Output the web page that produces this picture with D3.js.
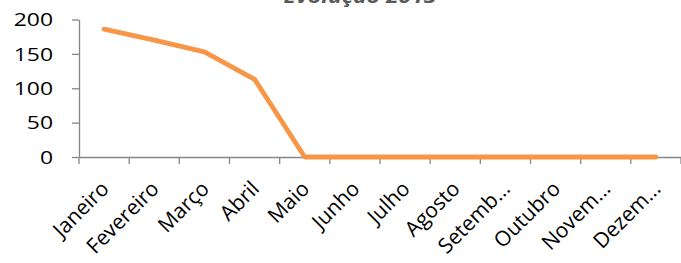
<!DOCTYPE html>
<html>
<head>
<meta charset="utf-8">
<script src="https://cdn.jsdelivr.net/npm/d3@7"></script>
<style>
  body { margin: 0; background: #fff; }
  svg { display: block; }
  .axis path, .axis line { stroke: #868686; stroke-width: 1.3; }
  text { font-family: "Open Sans", sans-serif; fill: #000; }
</style>
</head>
<body>
<div id="chart"></div>
<script>
// Chart data
var months = ["Janeiro", "Fevereiro", "Março", "Abril", "Maio", "Junho",
              "Julho", "Agosto", "Setemb...", "Outubro", "Novem...", "Dezem..."];
var values = [186, 170, 153, 113, 0, 0, 0, 0, 0, 0, 0, 0];
var yTicks = [0, 50, 100, 150, 200];
var title = "Evolução 2015";

var svgWidth = 681;
var svgHeight = 263;

// numbers and title look a bit wider than the font
var stretch = 1.24;

var margin = { top: 19.5, right: 0, bottom: 106, left: 79 };
var width = svgWidth - margin.left - margin.right;
var height = svgHeight - margin.top - margin.bottom;

var svg = d3.select("#chart")
  .append("svg")
  .attr("width", svgWidth)
  .attr("height", svgHeight);

var chartGroup = svg.append("g")
  .attr("transform", `translate(${margin.left}, ${margin.top})`);

var xScale = d3.scaleBand()
  .domain(months)
  .range([0, width]);

var yScale = d3.scaleLinear()
  .domain([0, 200])
  .range([height, 0]);

// Y axis
var yAxis = chartGroup.append("g")
  .attr("class", "axis")
  .call(d3.axisLeft(yScale).tickValues(yTicks).tickSize(7).tickSizeOuter(0).tickFormat(""));

chartGroup.append("g")
  .selectAll("text")
  .data(yTicks)
  .enter()
  .append("text")
  .attr("transform", d => `translate(-26, ${yScale(d)}) scale(${stretch}, 1)`)
  .attr("text-anchor", "end")
  .attr("dy", "0.36em")
  .style("font-size", "18.5px")
  .text(d => d);

// X axis with ticks between categories
var xAxis = chartGroup.append("g")
  .attr("class", "axis")
  .attr("transform", `translate(0, ${height})`)
  .call(d3.axisBottom(xScale).tickSize(0).tickSizeOuter(0).tickFormat(""));

xAxis.selectAll(".boundary")
  .data(d3.range(months.length + 1))
  .enter()
  .append("line")
  .attr("x1", i => i * xScale.bandwidth())
  .attr("x2", i => i * xScale.bandwidth())
  .attr("y1", 0)
  .attr("y2", 7);

// rotated month labels
chartGroup.append("g")
  .selectAll("text")
  .data(months)
  .enter()
  .append("text")
  .attr("transform", d => `translate(${xScale(d) + xScale.bandwidth() / 2 + 6}, ${height + 33}) rotate(-45)`)
  .attr("text-anchor", "end")
  .style("font-size", "21px")
  .text(d => d);

// line
var line = d3.line()
  .x((d, i) => xScale(months[i]) + xScale.bandwidth() / 2)
  .y(d => yScale(d));

chartGroup.append("path")
  .datum(values)
  .attr("d", line)
  .attr("fill", "none")
  .attr("stroke", "#f79646")
  .attr("stroke-width", 4.8)
  .attr("stroke-linejoin", "round")
  .attr("stroke-linecap", "round");

// title (clipped at top)
svg.append("text")
  .attr("transform", `translate(360, 3) scale(${stretch}, 1)`)
  .attr("text-anchor", "middle")
  .style("font-weight", "bold")
  .style("font-style", "italic")
  .style("font-size", "18.5px")
  .style("fill", "#595959")
  .text(title);
</script>
</body>
</html>
